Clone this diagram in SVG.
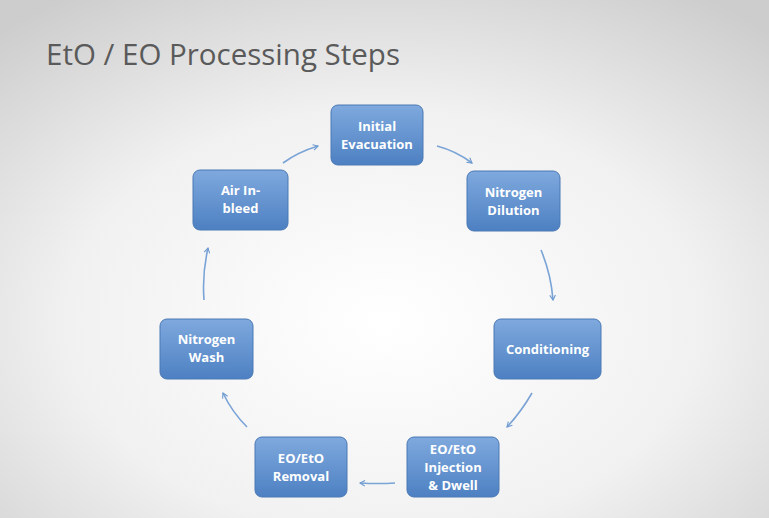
<svg xmlns="http://www.w3.org/2000/svg" width="769" height="518" viewBox="0 0 769 518">
<defs>
<radialGradient id="bg" cx="0.5" cy="0.62" r="0.75">
<stop offset="0" stop-color="#ffffff"/>
<stop offset="0.55" stop-color="#f1f1f1"/>
<stop offset="1" stop-color="#cdcdcd"/>
</radialGradient>
<linearGradient id="nf" x1="0" y1="0" x2="0" y2="1">
<stop offset="0" stop-color="#7fa9de"/>
<stop offset="1" stop-color="#4d80c2"/>
</linearGradient>
<marker id="ah" viewBox="0 0 10 10" refX="8" refY="5" markerWidth="7" markerHeight="7" orient="auto" markerUnits="userSpaceOnUse">
<path d="M1,1 L8,5 L1,9" fill="none" stroke="#6f9bd0" stroke-width="1.6"/>
</marker>
</defs>
<style>
.node rect{fill:url(#nf);stroke:#4a78b4;stroke-width:1;}
.node text{font-family:"Open Sans","Liberation Sans",sans-serif;font-weight:bold;font-size:13px;fill:#ffffff;text-anchor:middle;}
.conn path{fill:none;stroke:#7aa3d6;stroke-width:1.6;marker-end:url(#ah);}
.title{font-family:"Open Sans","Liberation Sans",sans-serif;font-size:29.5px;fill:#5a5a5a;}
</style>
<rect width="769" height="518" fill="url(#bg)"/>
<text class="title" x="46" y="65">EtO / EO Processing Steps</text>
<g class="conn">
<path d="M283,163 Q298,152 318,146"/>
<path d="M437,146 Q456,151 472,163"/>
<path d="M541,250 Q551,274 553,300"/>
<path d="M532,393 Q521,412 507,427"/>
<path d="M395,483 Q378,484 360,483"/>
<path d="M247,427 Q232,412 223,393"/>
<path d="M204,300 Q202,274 208,248"/>
</g>
<g id="initial-evacuation" class="node"><rect x="331" y="105" width="92" height="60" rx="7"/><text x="377" y="131">Initial</text><text x="377" y="149">Evacuation</text></g>
<g id="nitrogen-dilution" class="node"><rect x="467" y="171" width="93" height="60" rx="7"/><text x="513.5" y="197">Nitrogen</text><text x="513.5" y="215">Dilution</text></g>
<g id="conditioning" class="node"><rect x="494" y="319" width="107" height="60" rx="7"/><text x="547.5" y="354">Conditioning</text></g>
<g id="injection-dwell" class="node"><rect x="407" y="437" width="92" height="60" rx="7"/><text x="453" y="454">EO/EtO</text><text x="453" y="472">Injection</text><text x="453" y="490">&amp; Dwell</text></g>
<g id="eo-removal" class="node"><rect x="255" y="437" width="92" height="60" rx="7"/><text x="301" y="463">EO/EtO</text><text x="301" y="481">Removal</text></g>
<g id="nitrogen-wash" class="node"><rect x="160" y="319" width="93" height="60" rx="7"/><text x="206.5" y="344">Nitrogen</text><text x="206.5" y="362">Wash</text></g>
<g id="air-inbleed" class="node"><rect x="193" y="170" width="95" height="60" rx="7"/><text x="240.5" y="195">Air In-</text><text x="240.5" y="213">bleed</text></g>
</svg>
